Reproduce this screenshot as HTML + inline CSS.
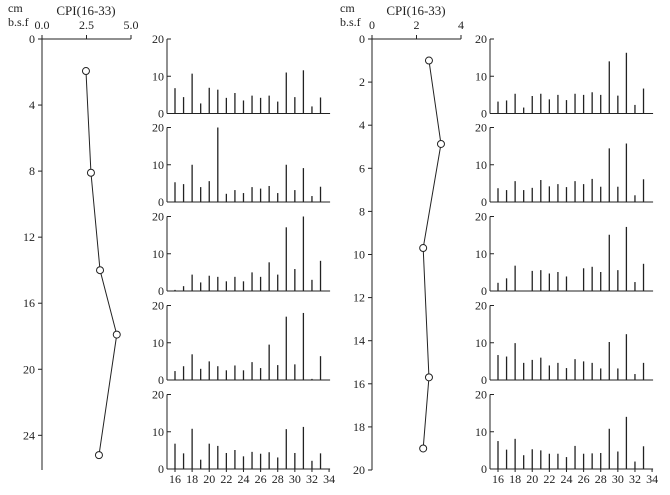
<!DOCTYPE html>
<html><head><meta charset="utf-8"><style>
html,body{margin:0;padding:0;background:#fff}
svg text{font-family:"Liberation Serif",serif;fill:#222}
</style></head><body>
<svg id="c" width="670" height="490" xmlns="http://www.w3.org/2000/svg">
<text x="8" y="12" font-size="12">cm</text>
<text x="8" y="26" font-size="12">b.s.f</text>
<text x="86" y="15" font-size="13" text-anchor="middle">CPI(16-33)</text>
<text x="340" y="12" font-size="12">cm</text>
<text x="340" y="26" font-size="12">b.s.f</text>
<text x="416" y="15" font-size="13" text-anchor="middle">CPI(16-33)</text>
</svg>
<script>
const svg=document.getElementById('c');
const NS='http://www.w3.org/2000/svg';
// Profile data
const leftDepth=[1.94,8.1,14,17.9,25.2];
const leftCPI=[2.47,2.75,3.26,4.2,3.2];
const leftCpiTicks=['0.0','2.5','5.0'];
const leftDepthTicks=[0,4,8,12,16,20,24];
const rightDepth=[1.0,4.87,9.7,15.7,19];
const rightCPI=[2.56,3.1,2.3,2.56,2.3];
const rightCpiTicks=['0','2','4'];
const rightDepthTicks=[0,2,4,6,8,10,12,14,16,18,20];
// Bar data (carbon numbers 16..33)
const carbons=[16,17,18,19,20,21,22,23,24,25,26,27,28,29,30,31,32,33];
const xTickLabels=[16,18,20,22,24,26,28,30,32,34];
const yTickLabels=[0,10,20];
const L1=[6.8,4.4,10.7,2.7,6.9,6.4,4.2,5.5,3.5,4.8,4.2,4.8,3.2,11,4.4,11.6,1.9,4.3];
const L2=[5.3,4.8,10,4,5.6,20,2.2,3.2,2.4,4,3.6,4.3,2.4,10,3.2,9.1,1.6,4.1];
const L3=[0.3,1.3,4.4,2.3,4.1,3.8,2.6,3.8,2.6,5,3.8,7.7,4.4,17.1,5.9,20,3,8.1];
const L4=[2.4,3.7,6.9,3,5,3.7,2.6,3.9,2.6,4.8,3.2,9.5,4,17,4.2,18,0.3,6.4];
const L5=[6.8,4.2,10.8,2.5,6.8,6.2,4.3,5.1,3.4,4.6,4.1,4.5,3.1,10.7,4.3,11.3,2.2,4.2];
const R1=[3.2,3.5,5.3,1.6,4.7,5.3,3.8,5,3.6,5.3,5,5.7,5,14,4.8,16.3,2.3,6.7];
const R2=[3.7,3.2,5.6,3.2,3.8,5.9,4.2,4.8,4,5.6,4.8,6.2,4.1,14.4,4.1,15.7,1.8,6.1];
const R3=[2.2,3.4,6.8,0.1,5.4,5.6,4.7,5.1,3.9,0.1,6.1,6.5,5.1,15.1,5.6,17.2,2.4,7.3];
const R4=[6.7,6.3,9.9,4.6,5.4,6,3.9,4.6,3.2,5.6,5,4.6,3.1,10.2,3.1,12.3,1.6,4.6];
const R5=[7.5,5.2,8.1,3.7,5.3,5,4.1,4.1,3.2,6.2,4.1,4.2,4.3,10.8,4.7,14,2,6.1];

function el(tag,attrs,parent){const e=document.createElementNS(NS,tag);for(const k in attrs)e.setAttribute(k,attrs[k]);(parent||svg).appendChild(e);return e;}
function line(x1,y1,x2,y2,g,w){return el('line',{x1,y1,x2,y2,stroke:'#222','stroke-width':w||1},g);}
function txt(x,y,s,anchor,g,size){const t=el('text',{x,y,'font-size':size||12,'text-anchor':anchor||'middle'},g);t.textContent=s;return t;}

function profile(name,x0,x1,cmax,ytop,ybot,dmax,cpiTicks,dTicks,depth,cpi){
  const g=el('g',{});
  
  
  const sx=v=>x0+(v/cmax)*(x1-x0);
  const sy=d=>ytop+(d/dmax)*(ybot-ytop);
  line(x0,ytop,x0,ybot,g);line(x0,ytop,x1,ytop,g);
  cpiTicks.forEach((s,i)=>{const x=x0+i*(x1-x0)/(cpiTicks.length-1);line(x,ytop,x,ytop-4,g);txt(x,ytop-10,s,'middle',g,12);});
  dTicks.forEach(d=>{line(x0,sy(d),x0-4,sy(d),g);txt(x0-7,sy(d)+4,String(d),'end',g,12);});
  const pts=depth.map((d,i)=>sx(cpi[i])+','+sy(d)).join(' ');
  const pl=el('polyline',{points:pts,fill:'none',stroke:'#222','stroke-width':1},g);
  
  
  depth.forEach((d,i)=>{const c=el('circle',{cx:sx(cpi[i]),cy:sy(d),r:3.5,fill:'#fff',stroke:'#222','stroke-width':1},g);
    
    });
}
profile('cpi-profile-left',42,131,5,39,470,26.1,leftCpiTicks,leftDepthTicks,leftDepth,leftCPI);
profile('cpi-profile-right',372,461,4,39,470,20,rightCpiTicks,rightDepthTicks,rightDepth,rightCPI);

function barPanel(name,ax,top,vals,showX){
  const g=el('g',{});
  
  
  const h=74.5, base=top+h;
  const sx=c=>ax+8+(c-16)*8.56;
  const sy=v=>base-v/20*h;
  line(ax,top,ax,base,g);line(ax,base,sx(34)+1,base,g);
  yTickLabels.forEach(v=>{line(ax,sy(v),ax+4,sy(v),g);txt(ax-3,sy(v)+4,String(v),'end',g,12);});
  vals.forEach((v,i)=>{const b=line(sx(carbons[i]),base,sx(carbons[i]),sy(v),g,1.3);
    
    });
  if(showX){xTickLabels.forEach(c=>{line(sx(c),base,sx(c),base+3,g);txt(sx(c),base+14,String(c),'middle',g,12);});}
}
const tops=[39,127.5,216.5,305.5,394.5];
[L1,L2,L3,L4,L5].forEach((v,i)=>barPanel('left-bar-panel-'+(i+1),167,tops[i],v,i===4));
[R1,R2,R3,R4,R5].forEach((v,i)=>barPanel('right-bar-panel-'+(i+1),490,tops[i],v,i===4));
</script>
</body></html>
